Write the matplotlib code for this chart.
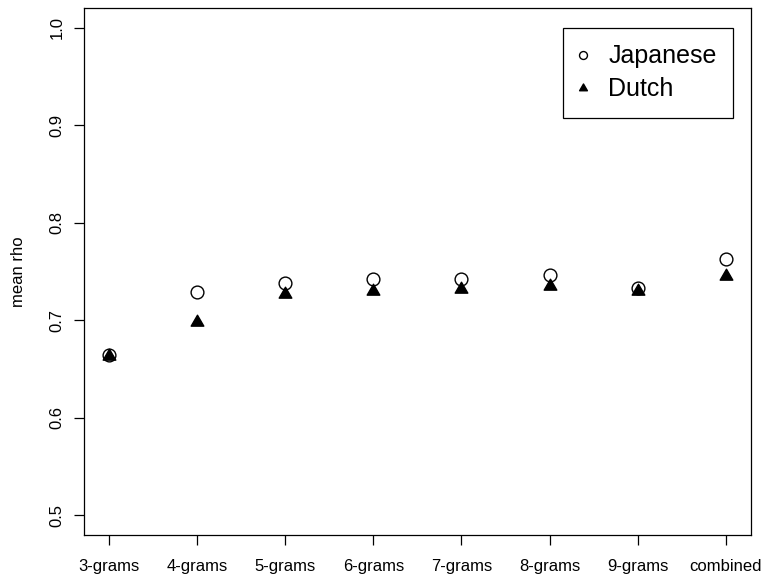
import numpy as np
import matplotlib.pyplot as plt
from matplotlib.path import Path

plt.rcParams['font.family'] = ['Liberation Sans', 'DejaVu Sans']

# mean rho per n-gram setting
categories = ['3-grams', '4-grams', '5-grams', '6-grams', '7-grams', '8-grams', '9-grams', 'combined']
japanese = [0.664, 0.729, 0.738, 0.742, 0.742, 0.746, 0.733, 0.763]
dutch = [0.663, 0.698, 0.727, 0.730, 0.732, 0.735, 0.730, 0.745]
yticks = [0.5, 0.6, 0.7, 0.8, 0.9, 1.0]

# equilateral triangle like R's pch 17, centred on its centroid
tri = Path([(0, 1.555), (1.3468, -0.7776), (-1.3468, -0.7776), (0, 1.555)],
           [Path.MOVETO, Path.LINETO, Path.LINETO, Path.CLOSEPOLY])

fig = plt.figure(figsize=(7.62, 5.75), dpi=100)
ax = fig.add_axes([0.1106, 0.0701, 0.8744, 0.9155])

x = np.arange(1, len(categories) + 1)
ax.plot(x, japanese, linestyle='none', marker='o', markersize=9.2,
        markerfacecolor='white', markeredgecolor='black', markeredgewidth=1.0,
        label='Japanese')
ax.plot(x, dutch, linestyle='none', marker=tri, markersize=10.5,
        color='black', label='Dutch')

# R style: 4% padding on both axes
ax.set_xlim(1 - 0.04 * 7, 8 + 0.04 * 7)
ax.set_ylim(0.5 - 0.04 * 0.5, 1.0 + 0.04 * 0.5)

ax.set_xticks(x)
ax.set_xticklabels(categories, fontsize=12)
ax.set_yticks(yticks)
ax.set_yticklabels(['%.1f' % v for v in yticks], fontsize=12, rotation=90, va='center')
ax.tick_params(direction='out', length=7.2, width=0.9, color='black')
ax.tick_params(axis='x', pad=10.5)
ax.tick_params(axis='y', pad=7)
for s in ax.spines.values():
    s.set_linewidth(0.9)
    s.set_color('black')

ax.set_ylabel('mean rho', fontsize=12)
ax.yaxis.set_label_coords(-0.088, 0.5)

leg = ax.legend(loc='upper right', bbox_to_anchor=(733 / 762, 1 - 28 / 575),
                bbox_transform=fig.transFigure, borderaxespad=0, fontsize=18,
                fancybox=False, framealpha=1, edgecolor='black', markerscale=0.62,
                handlelength=0.3, handletextpad=0.85, labelspacing=0.36,
                borderpad=0.65)
leg.get_frame().set_linewidth(0.9)

fig.savefig('out.png', dpi=100)
